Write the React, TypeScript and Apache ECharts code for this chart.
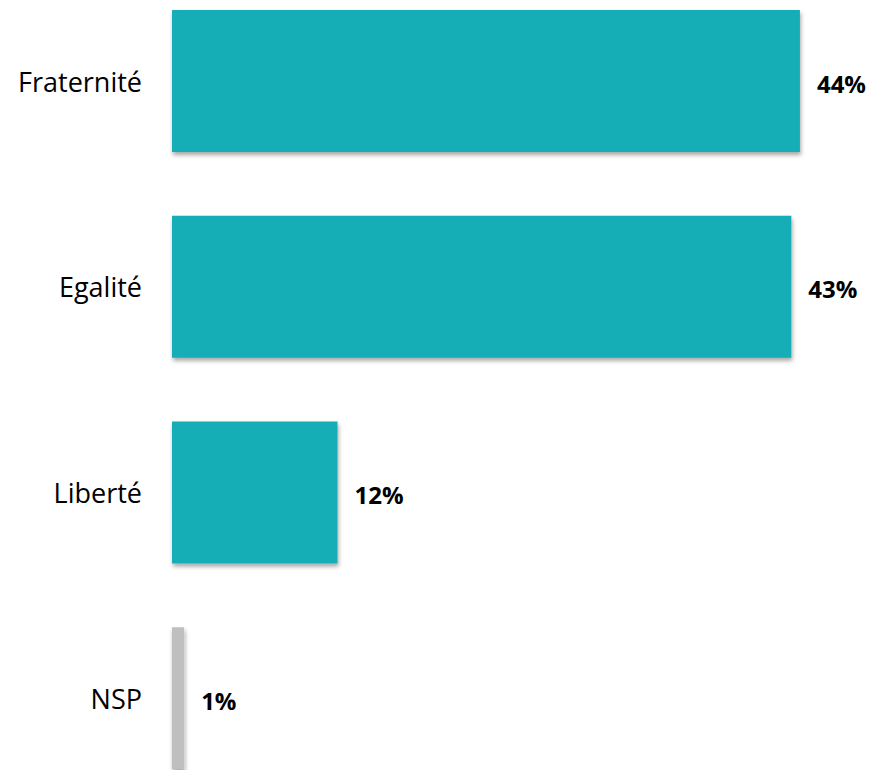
import React, { useEffect, useRef } from "react";
import * as echarts from "echarts";

const categories = ["Fraternité", "Egalité", "Liberté", "NSP"];
const values = [44, 43.4, 11.6, 0.85];
const labels = ["44%", "43%", "12%", "1%"];
const colors = ["#13AEB6", "#13AEB6", "#13AEB6", "#BFBFBF"];

export default function App() {
  const ref = useRef<HTMLDivElement>(null);
  useEffect(() => {
    if (!ref.current) return;
    const chart = echarts.init(ref.current, undefined, { renderer: "svg" });
    chart.setOption({
      animation: false,
      grid: {
        left: 172,
        top: -21.8,
        height: 822.8,
        right: 15,
        outerBoundsMode: "none",
        containLabel: false,
      },
      xAxis: {
        type: "value",
        min: 0,
        max: 48,
        show: false,
      },
      yAxis: {
        type: "category",
        data: categories,
        inverse: true,
        axisLine: { show: false },
        axisTick: { show: false },
        splitLine: { show: false },
        axisLabel: {
          margin: 30,
          color: "#000000",
          fontFamily: "Open Sans",
          fontSize: 27,
        },
      },
      series: [
        {
          type: "bar",
          barCategoryGap: "31%",
          data: values.map((v, i) => ({
            value: v,
            itemStyle: {
              color: colors[i],
              shadowColor: "rgba(0,0,0,0.35)",
              shadowBlur: 4,
              shadowOffsetX: 1,
              shadowOffsetY: 3,
            },
          })),
          label: {
            show: true,
            position: "right",
            distance: 17,
            color: "#000000",
            fontFamily: "Open Sans",
            fontWeight: "bold",
            fontSize: 24,
            offset: [0, 2],
            formatter: (p: any) => labels[p.dataIndex],
          },
        },
      ],
    });
    return () => chart.dispose();
  }, []);
  return (
    <div
      ref={ref}
      style={{ position: "absolute", left: 0, top: 0, width: 872, height: 770 }}
    />
  );
}
